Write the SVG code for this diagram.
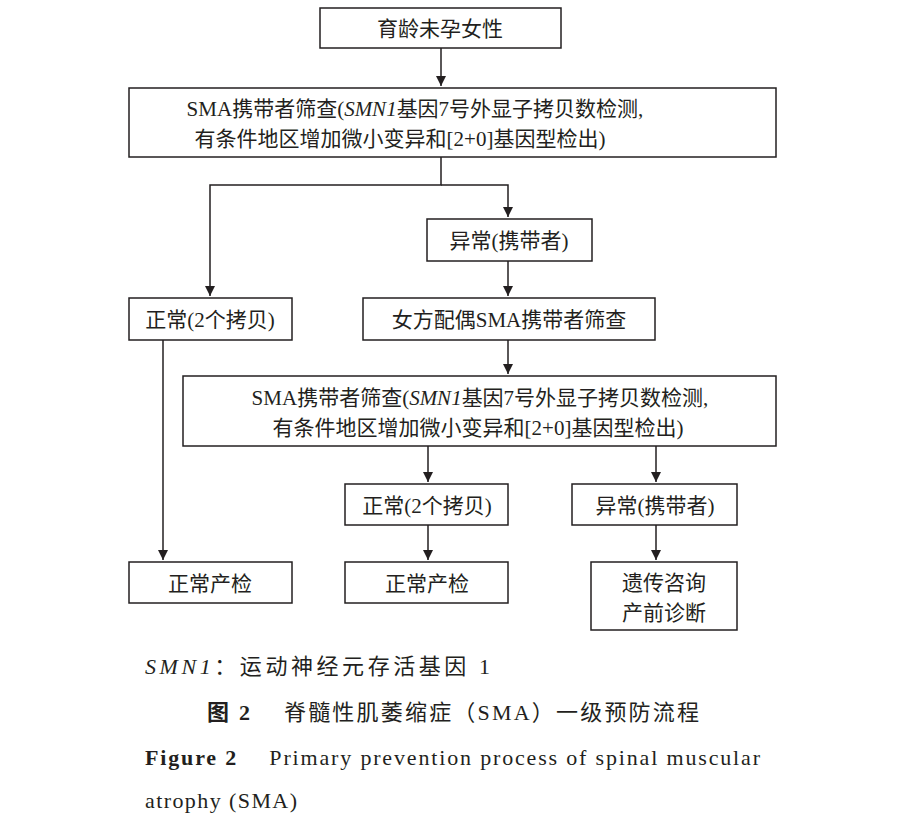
<svg xmlns="http://www.w3.org/2000/svg" width="897" height="820" viewBox="0 0 897 820">
<defs>
<marker id="ah" viewBox="0 0 10 10" refX="10" refY="5" markerWidth="10" markerHeight="12" orient="auto" markerUnits="userSpaceOnUse"><path d="M0,0 L10,5 L0,10 z" fill="#231f20"/></marker>
<style>
.b{fill:#fff;stroke:#231f20;stroke-width:1.5}
.t{font-family:"Liberation Serif","Noto Sans CJK SC",serif;font-size:21px;fill:#231f20;text-anchor:middle}
.c{fill:none;stroke:#231f20;stroke-width:1.5}
.cap{font-family:"Liberation Serif","Noto Sans CJK SC",serif;font-size:22px;fill:#231f20}
</style>
</defs>
<rect width="897" height="820" fill="#fff"/>
<g id="connectors">
<path class="c" d="M441,48V86" marker-end="url(#ah)"/>
<path class="c" d="M441,157V185H210V296" marker-end="url(#ah)"/>
<path class="c" d="M441,185H508V217" marker-end="url(#ah)"/>
<path class="c" d="M508,261V296" marker-end="url(#ah)"/>
<path class="c" d="M508,340V374" marker-end="url(#ah)"/>
<path class="c" d="M163,340V560" marker-end="url(#ah)"/>
<path class="c" d="M428,446V482" marker-end="url(#ah)"/>
<path class="c" d="M656,446V482" marker-end="url(#ah)"/>
<path class="c" d="M428,525V560" marker-end="url(#ah)"/>
<path class="c" d="M656,525V560" marker-end="url(#ah)"/>
</g>
<g id="n1"><rect class="b" x="320" y="8" width="241" height="40"/><text class="t" x="440" y="36">育龄未孕女性</text></g>
<g id="n2"><rect class="b" x="129" y="88" width="647" height="69"/><text class="t" x="415" y="116">SMA携带者筛查(<tspan font-style="italic">SMN1</tspan>基因7号外显子拷贝数检测,</text><text class="t" x="400" y="146">有条件地区增加微小变异和[2+0]基因型检出)</text></g>
<g id="n3"><rect class="b" x="427" y="219" width="165" height="42"/><text class="t" x="509" y="248">异常(携带者)</text></g>
<g id="n4"><rect class="b" x="129" y="298" width="163" height="42"/><text class="t" x="210" y="327">正常(2个拷贝)</text></g>
<g id="n5"><rect class="b" x="363" y="298" width="292" height="42"/><text class="t" x="509" y="327">女方配偶SMA携带者筛查</text></g>
<g id="n6"><rect class="b" x="183" y="376" width="593" height="70"/><text class="t" x="480" y="405">SMA携带者筛查(<tspan font-style="italic">SMN1</tspan>基因7号外显子拷贝数检测,</text><text class="t" x="478" y="435">有条件地区增加微小变异和[2+0]基因型检出)</text></g>
<g id="n7"><rect class="b" x="345" y="484" width="163" height="41"/><text class="t" x="427" y="513">正常(2个拷贝)</text></g>
<g id="n8"><rect class="b" x="572" y="484" width="165" height="41"/><text class="t" x="655" y="513">异常(携带者)</text></g>
<g id="n9"><rect class="b" x="129" y="562" width="163" height="41"/><text class="t" x="210" y="591">正常产检</text></g>
<g id="n10"><rect class="b" x="345" y="562" width="163" height="41"/><text class="t" x="427" y="591">正常产检</text></g>
<g id="n11"><rect class="b" x="591" y="562" width="146" height="68"/><text class="t" x="664" y="590">遗传咨询</text><text class="t" x="664" y="620">产前诊断</text></g>
<text class="cap" x="145" y="674" textLength="345" lengthAdjust="spacing"><tspan font-style="italic">SMN1</tspan>：运动神经元存活基因 1</text>
<text class="cap" x="207" y="720" textLength="492" lengthAdjust="spacing"><tspan font-weight="bold">图 2</tspan>　 脊髓性肌萎缩症（SMA）一级预防流程</text>
<text class="cap" x="145" y="765" textLength="615" lengthAdjust="spacing"><tspan font-weight="bold">Figure 2</tspan>　 Primary prevention process of spinal muscular</text>
<text class="cap" x="145" y="808" textLength="152" lengthAdjust="spacing">atrophy (SMA)</text>
</svg>
